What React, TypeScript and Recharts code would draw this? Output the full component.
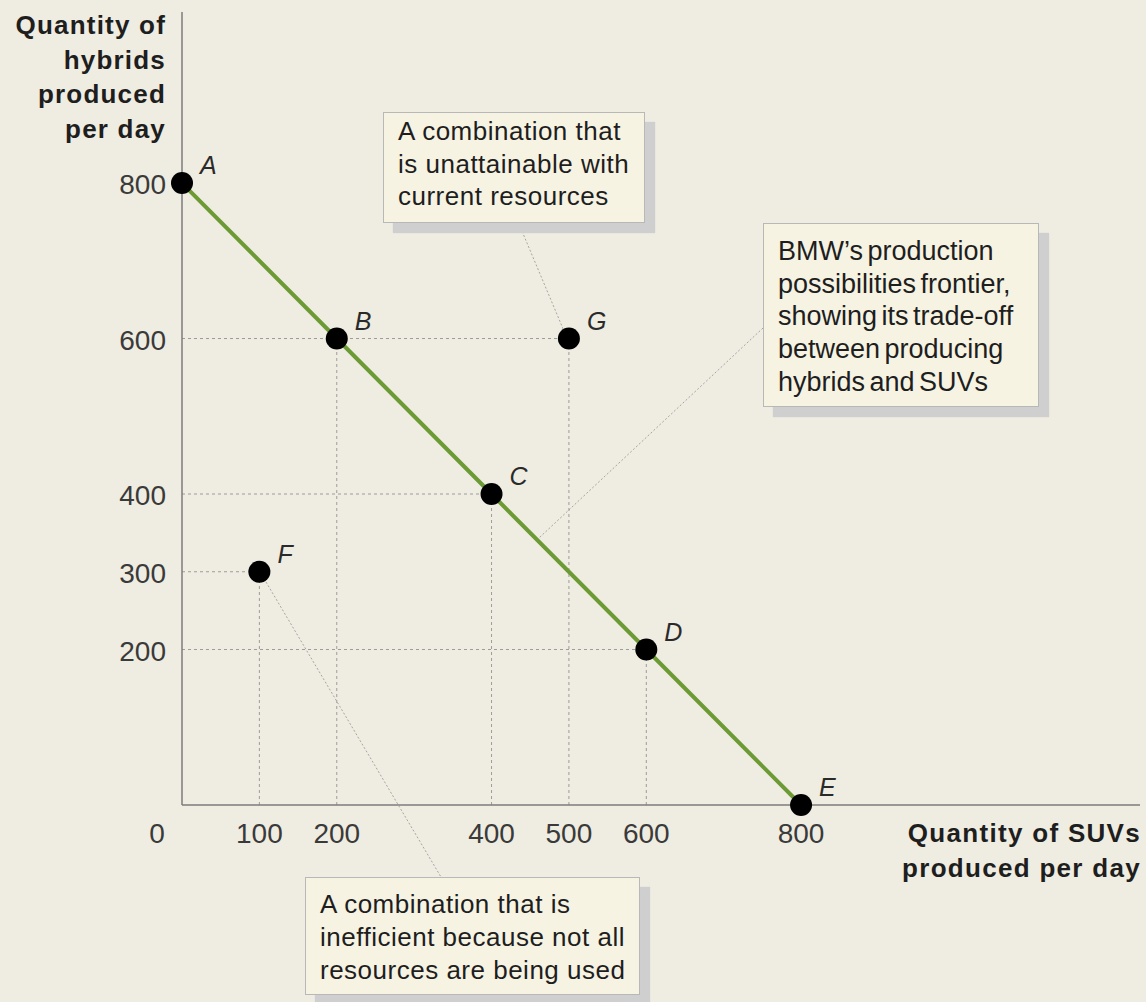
import React from 'react';
import { ComposedChart, Line, Scatter, XAxis, YAxis, ReferenceLine } from 'recharts';

const pointLabels = ['A', 'B', 'C', 'D', 'E', 'F', 'G'];
const suvValues = [0, 200, 400, 600, 800, 100, 500];
const hybridValues = [800, 600, 400, 200, 0, 300, 600];
const frontierLabels = ['A', 'B', 'C', 'D', 'E'];
const guideLabels = ['B', 'C', 'D', 'F', 'G'];
const xTicks = [0, 100, 200, 400, 500, 600, 800];
const yTicks = [200, 300, 400, 600, 800];

const points = pointLabels.map((label, i) => ({ label, x: suvValues[i], y: hybridValues[i] }));
const frontier = points.filter((p) => frontierLabels.includes(p.label));
const guides = points.filter((p) => guideLabels.includes(p.label));

const BG = '#efece1';
const BOX_BG = '#f6f3e3';
const GUIDE = '#9c9c9c';
const FONT = '"Liberation Sans", Arial, Helvetica, sans-serif';

const XTick = (props: any) => {
  const { x, y, payload } = props;
  const tx = payload.value === 0 ? x - 25 : x;
  return (
    <text x={tx} y={y + 38} textAnchor="middle" fontSize={28} fill="#3a3a3a" fontFamily={FONT}>
      {payload.value}
    </text>
  );
};

const YTick = (props: any) => {
  const { x, y, payload } = props;
  return (
    <text x={x - 16} y={y + 11} textAnchor="end" fontSize={28} fill="#3a3a3a" fontFamily={FONT}>
      {payload.value}
    </text>
  );
};

const PointShape = (props: any) => {
  const { cx, cy, payload } = props;
  return (
    <g>
      <circle cx={cx} cy={cy} r={11} fill="#000" />
      <text x={cx + 18} y={cy - 9} fontSize={25} fontStyle="italic" fill="#2a2a2a" fontFamily={FONT}>
        {payload.label}
      </text>
    </g>
  );
};

const boxBase: React.CSSProperties = {
  position: 'absolute',
  boxSizing: 'border-box',
  background: BOX_BG,
  border: '1px solid #b8b8b8',
  boxShadow: '10px 10px 1px #cfcfcf',
  fontFamily: FONT,
  color: '#1e1e1e',
  whiteSpace: 'nowrap',
};

export default function App() {
  return (
    <div style={{ position: 'absolute', left: 0, top: 0, width: 1146, height: 1002, background: BG, overflow: 'hidden' }}>
      <ComposedChart
        width={1146}
        height={1002}
        margin={{ top: 12, right: 6, left: 102, bottom: 137 }}
      >
        <XAxis
          dataKey="x"
          type="number"
          domain={[0, 1238]}
          ticks={xTicks}
          interval={0}
          tickLine={false}
          tickSize={0}
          tickMargin={0}
          height={60}
          axisLine={{ stroke: '#7d7d7d', strokeWidth: 1.5 }}
          tick={<XTick />}
        />
        <YAxis
          type="number"
          domain={[0, 1020]}
          ticks={yTicks}
          interval={0}
          tickLine={false}
          tickSize={0}
          tickMargin={0}
          width={80}
          axisLine={{ stroke: '#7d7d7d', strokeWidth: 1.5 }}
          tick={<YTick />}
        />
        {guides.map((p) => (
          <ReferenceLine
            key={'h' + p.label}
            segment={[{ x: 0, y: p.y }, { x: p.x, y: p.y }]}
            stroke={GUIDE}
            strokeWidth={1}
            strokeDasharray="3 3"
          />
        ))}
        {guides.map((p) => (
          <ReferenceLine
            key={'v' + p.label}
            segment={[{ x: p.x, y: 0 }, { x: p.x, y: p.y }]}
            stroke={GUIDE}
            strokeWidth={1}
            strokeDasharray="3 3"
          />
        ))}
        <Line
          data={frontier}
          dataKey="y"
          stroke="#6c9a34"
          strokeWidth={4}
          dot={false}
          activeDot={false}
          isAnimationActive={false}
        />
        <Scatter data={points} dataKey="y" shape={<PointShape />} isAnimationActive={false} />
      </ComposedChart>

      <svg width={1146} height={1002} style={{ position: 'absolute', left: 0, top: 0, pointerEvents: 'none' }}>
        <line x1={519} y1={224} x2={564} y2={331} stroke="#a5a5a5" strokeWidth={1} strokeDasharray="2 2" />
        <line x1={763} y1={328} x2={539} y2={538} stroke="#a5a5a5" strokeWidth={1} strokeDasharray="2 2" />
        <line x1={266} y1={582} x2={441} y2={877} stroke="#a5a5a5" strokeWidth={1} strokeDasharray="2 2" />
      </svg>

      <div
        style={{
          position: 'absolute', left: 0, top: 8, width: 166, textAlign: 'right',
          fontFamily: FONT, fontWeight: 'bold', fontSize: 26, letterSpacing: 1.2,
          lineHeight: '34.7px', color: '#1e1e1e',
        }}
      >
        <div>Quantity of</div>
        <div>hybrids</div>
        <div>produced</div>
        <div>per day</div>
      </div>

      <div
        style={{
          position: 'absolute', left: 780, top: 816, width: 361, textAlign: 'right',
          fontFamily: FONT, fontWeight: 'bold', fontSize: 26, letterSpacing: 1.3,
          lineHeight: '35px', color: '#1e1e1e',
        }}
      >
        <div>Quantity of SUVs</div>
        <div>produced per day</div>
      </div>

      <div style={{ ...boxBase, left: 383, top: 112, width: 262, height: 111, padding: '2px 0 0 14px', fontSize: 26, letterSpacing: 0.5, lineHeight: '32.5px' }}>
        <div>A combination that</div>
        <div>is unattainable with</div>
        <div>current resources</div>
      </div>

      <div style={{ ...boxBase, left: 763, top: 223, width: 276, height: 184, padding: '11px 0 0 14px', fontSize: 27, letterSpacing: 0, wordSpacing: -3, lineHeight: '32.7px' }}>
        <div>BMW’s production</div>
        <div>possibilities frontier,</div>
        <div>showing its trade-off</div>
        <div>between producing</div>
        <div>hybrids and SUVs</div>
      </div>

      <div style={{ ...boxBase, left: 305, top: 877, width: 335, height: 118, padding: '10px 0 0 14px', fontSize: 26, letterSpacing: 0.5, lineHeight: '33px' }}>
        <div>A combination that is</div>
        <div>inefficient because not all</div>
        <div>resources are being used</div>
      </div>
    </div>
  );
}
